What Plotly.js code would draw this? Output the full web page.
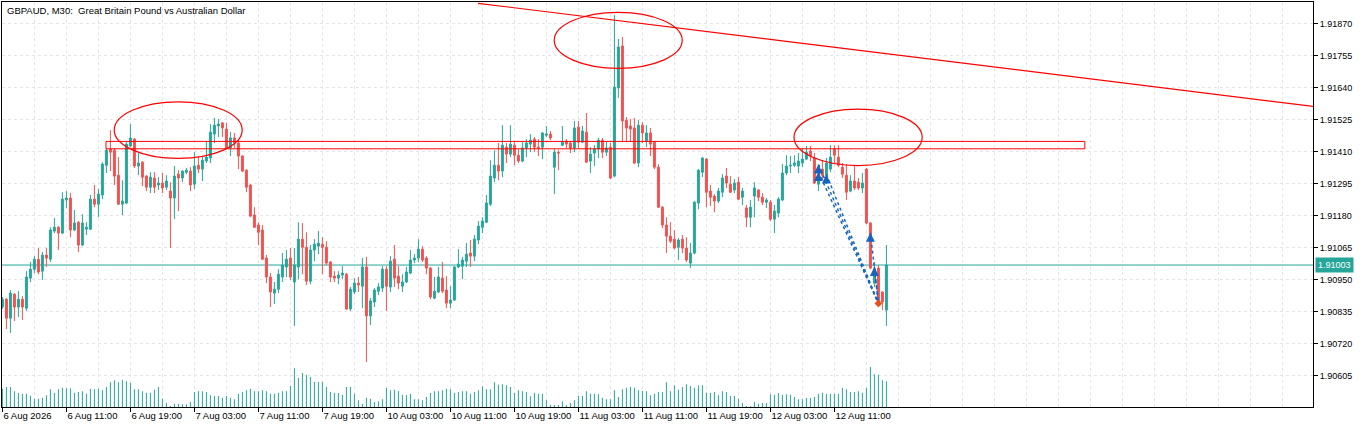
<!DOCTYPE html>
<html><head><meta charset="utf-8">
<script src="https://cdn.plot.ly/plotly-3.0.1.min.js"></script>
<style>html,body{margin:0;padding:0;background:#fff;}#chart{width:1366px;height:428px;}</style>
</head><body><div id="chart"></div>
<script>
const openP = [
1.90852,1.90880,1.90812,1.90898,1.90852,1.90880,1.90848,1.90956,1.90988,1.91024,
1.90981,1.91039,1.91024,1.91125,1.91139,1.91118,1.91237,1.91244,1.91129,1.91157,
1.91075,1.91132,1.91132,1.91240,1.91222,1.91255,1.91362,1.91420,1.91416,1.91326,
1.91222,1.91226,1.91431,1.91456,1.91359,1.91373,1.91323,1.91283,1.91316,1.91291,
1.91298,1.91283,1.91269,1.91244,1.91330,1.91316,1.91337,1.91341,1.91294,1.91362,
1.91348,1.91377,1.91388,1.91474,1.91503,1.91514,1.91492,1.91424,1.91460,1.91442,
1.91395,1.91344,1.91291,1.91183,1.91147,1.91129,1.91028,1.90960,1.90902,1.90916,
1.90960,1.90996,1.91028,1.90942,1.90996,1.91096,1.91067,1.90945,1.91057,1.91071,
1.91078,1.91067,1.91014,1.90963,1.90956,1.90967,1.90970,1.90845,1.90906,1.90938,
1.90927,1.90996,1.90820,1.90870,1.90909,1.90920,1.90988,1.90924,1.91024,1.90963,
1.90927,1.90942,1.90974,1.91021,1.91028,1.91060,1.91028,1.90992,1.90884,1.90906,
1.90956,1.90913,1.90866,1.90877,1.90996,1.90999,1.91017,1.91046,1.91035,1.91093,
1.91139,1.91157,1.91222,1.91316,1.91362,1.91341,1.91427,1.91402,1.91434,1.91398,
1.91377,1.91424,1.91438,1.91456,1.91427,1.91427,1.91470,1.91474,1.91355,1.91409,
1.91434,1.91449,1.91442,1.91424,1.91499,1.91445,1.91481,1.91377,1.91406,1.91420,
1.91452,1.91409,1.91427,1.91323,1.91640,1.91791,1.91524,1.91503,1.91496,1.91370,
1.91506,1.91449,1.91478,1.91445,1.91355,1.91211,1.91147,1.91107,1.91096,1.91067,
1.91096,1.91064,1.91010,1.91046,1.91226,1.91337,1.91384,1.91269,1.91251,1.91233,
1.91265,1.91323,1.91294,1.91273,1.91301,1.91247,1.91208,1.91175,1.91251,1.91273,
1.91247,1.91229,1.91229,1.91168,1.91190,1.91237,1.91334,1.91359,1.91362,1.91359,
1.91370,1.91384,1.91413,1.91388,1.91294,1.91348,1.91326,1.91348,1.91420,1.91391,
1.91355,1.91326,1.91269,1.91305,1.91301,1.91280,1.91348,1.91154,1.90938,1.90992,
1.90906,1.90841];
const highP = [
1.90888,1.90884,1.90913,1.90902,1.90909,1.90891,1.90981,1.91014,1.91035,1.91064,
1.91050,1.91064,1.91139,1.91172,1.91143,1.91265,1.91269,1.91262,1.91201,1.91161,
1.91186,1.91157,1.91255,1.91291,1.91276,1.91373,1.91424,1.91488,1.91424,1.91391,
1.91308,1.91445,1.91510,1.91460,1.91409,1.91377,1.91326,1.91337,1.91337,1.91319,
1.91334,1.91326,1.91301,1.91359,1.91344,1.91344,1.91352,1.91355,1.91409,1.91391,
1.91391,1.91449,1.91510,1.91532,1.91528,1.91517,1.91514,1.91481,1.91478,1.91452,
1.91398,1.91348,1.91294,1.91211,1.91157,1.91147,1.91039,1.90974,1.90942,1.90988,
1.91046,1.91057,1.91064,1.91064,1.91157,1.91154,1.91121,1.91075,1.91096,1.91125,
1.91103,1.91089,1.91017,1.90981,1.90981,1.90999,1.90974,1.90924,1.90956,1.90960,
1.91028,1.91032,1.90884,1.90920,1.90938,1.90999,1.90999,1.91035,1.91075,1.90999,
1.90970,1.90996,1.91057,1.91042,1.91096,1.91071,1.91035,1.90996,1.90960,1.90996,
1.91014,1.90963,1.90927,1.90999,1.91060,1.91032,1.91082,1.91093,1.91111,1.91161,
1.91175,1.91255,1.91380,1.91416,1.91442,1.91506,1.91442,1.91506,1.91445,1.91420,
1.91445,1.91456,1.91474,1.91463,1.91456,1.91481,1.91503,1.91485,1.91420,1.91416,
1.91503,1.91456,1.91449,1.91521,1.91521,1.91503,1.91550,1.91427,1.91434,1.91460,
1.91460,1.91449,1.91442,1.91902,1.91816,1.91823,1.91535,1.91528,1.91532,1.91524,
1.91517,1.91506,1.91496,1.91449,1.91366,1.91215,1.91175,1.91157,1.91129,1.91100,
1.91111,1.91103,1.91082,1.91233,1.91348,1.91391,1.91388,1.91291,1.91258,1.91280,
1.91330,1.91352,1.91323,1.91312,1.91319,1.91280,1.91219,1.91237,1.91301,1.91276,
1.91262,1.91244,1.91237,1.91219,1.91247,1.91366,1.91398,1.91395,1.91398,1.91406,
1.91424,1.91431,1.91431,1.91406,1.91352,1.91380,1.91388,1.91434,1.91434,1.91434,
1.91370,1.91366,1.91326,1.91362,1.91316,1.91334,1.91352,1.91157,1.91014,1.91003,
1.90909,1.91075];
const lowP = [
1.90845,1.90773,1.90759,1.90802,1.90816,1.90805,1.90838,1.90942,1.90974,1.90970,
1.90949,1.90996,1.91014,1.91118,1.91057,1.91114,1.91208,1.91103,1.91125,1.91050,
1.91071,1.91111,1.91129,1.91211,1.91175,1.91240,1.91334,1.91341,1.91291,1.91219,
1.91183,1.91222,1.91427,1.91352,1.91326,1.91287,1.91269,1.91262,1.91262,1.91273,
1.91262,1.91273,1.91064,1.91168,1.91197,1.91301,1.91330,1.91269,1.91276,1.91334,
1.91305,1.91370,1.91370,1.91442,1.91463,1.91463,1.91420,1.91395,1.91424,1.91348,
1.91337,1.91265,1.91175,1.91136,1.91075,1.91021,1.90938,1.90852,1.90863,1.90902,
1.90942,1.90960,1.90949,1.90784,1.90952,1.90970,1.90931,1.90934,1.91017,1.91042,
1.90970,1.91003,1.90942,1.90942,1.90934,1.90952,1.90841,1.90838,1.90898,1.90906,
1.90848,1.90654,1.90787,1.90852,1.90895,1.90906,1.90838,1.90906,1.90924,1.90916,
1.90906,1.90938,1.90970,1.91010,1.91014,1.91014,1.90970,1.90880,1.90880,1.90902,
1.90902,1.90848,1.90848,1.90874,1.90992,1.90952,1.90996,1.90996,1.91017,1.91078,
1.91118,1.91154,1.91215,1.91301,1.91308,1.91319,1.91370,1.91391,1.91362,1.91370,
1.91373,1.91391,1.91409,1.91409,1.91395,1.91384,1.91463,1.91452,1.91258,1.91344,
1.91431,1.91424,1.91406,1.91409,1.91424,1.91442,1.91370,1.91334,1.91359,1.91388,
1.91388,1.91395,1.91312,1.91319,1.91604,1.91445,1.91445,1.91445,1.91366,1.91355,
1.91442,1.91427,1.91395,1.91348,1.91208,1.91136,1.91046,1.91082,1.91060,1.91021,
1.91046,1.91014,1.90992,1.91042,1.91204,1.91319,1.91211,1.91215,1.91193,1.91226,
1.91247,1.91280,1.91262,1.91262,1.91237,1.91219,1.91139,1.91139,1.91175,1.91233,
1.91219,1.91208,1.91161,1.91118,1.91175,1.91233,1.91326,1.91334,1.91355,1.91334,
1.91355,1.91380,1.91377,1.91294,1.91269,1.91308,1.91308,1.91337,1.91370,1.91355,
1.91316,1.91237,1.91265,1.91273,1.91273,1.91262,1.91150,1.90988,1.90924,1.90859,
1.90841,1.90784];
const closeP = [
1.90880,1.90812,1.90902,1.90852,1.90880,1.90852,1.90960,1.90988,1.91024,1.90978,
1.91039,1.91028,1.91129,1.91139,1.91118,1.91240,1.91244,1.91129,1.91154,1.91075,
1.91154,1.91139,1.91240,1.91222,1.91258,1.91366,1.91416,1.91409,1.91323,1.91222,
1.91233,1.91438,1.91460,1.91359,1.91370,1.91319,1.91283,1.91319,1.91283,1.91298,
1.91280,1.91305,1.91244,1.91323,1.91316,1.91341,1.91344,1.91291,1.91359,1.91348,
1.91380,1.91391,1.91481,1.91506,1.91510,1.91496,1.91424,1.91460,1.91442,1.91395,
1.91341,1.91283,1.91179,1.91139,1.91121,1.91024,1.90960,1.90906,1.90916,1.90970,
1.91003,1.91024,1.90960,1.91003,1.91096,1.91067,1.90945,1.91057,1.91078,1.91082,
1.91067,1.91010,1.90960,1.90956,1.90967,1.90974,1.90845,1.90916,1.90938,1.90931,
1.90996,1.90820,1.90874,1.90913,1.90924,1.90988,1.90927,1.91017,1.90956,1.90938,
1.90942,1.90978,1.91021,1.91028,1.91060,1.91021,1.90992,1.90888,1.90909,1.90960,
1.90909,1.90866,1.90877,1.90996,1.91006,1.91021,1.91042,1.91035,1.91096,1.91143,
1.91161,1.91226,1.91323,1.91362,1.91341,1.91434,1.91402,1.91438,1.91398,1.91377,
1.91424,1.91442,1.91452,1.91427,1.91424,1.91478,1.91474,1.91460,1.91409,1.91406,
1.91445,1.91438,1.91424,1.91496,1.91445,1.91485,1.91373,1.91402,1.91420,1.91452,
1.91409,1.91424,1.91316,1.91643,1.91787,1.91521,1.91496,1.91492,1.91370,1.91506,
1.91478,1.91478,1.91438,1.91355,1.91211,1.91147,1.91107,1.91089,1.91064,1.91093,
1.91064,1.91021,1.91046,1.91229,1.91344,1.91388,1.91265,1.91247,1.91233,1.91269,
1.91316,1.91298,1.91265,1.91298,1.91240,1.91269,1.91175,1.91211,1.91280,1.91247,
1.91229,1.91237,1.91168,1.91197,1.91240,1.91334,1.91359,1.91362,1.91370,1.91377,
1.91384,1.91409,1.91395,1.91298,1.91323,1.91326,1.91370,1.91391,1.91398,1.91362,
1.91330,1.91265,1.91305,1.91280,1.91280,1.91298,1.91154,1.90992,1.90988,1.90866,
1.90870,1.91003];
const volume = [
550,600,600,470,420,400,400,340,250,250,
280,350,530,420,530,580,560,560,430,450,
470,400,550,530,550,500,600,740,800,740,
820,770,730,530,530,470,430,430,520,600,
250,130,30,100,100,80,80,150,450,470,
470,450,350,330,330,280,330,280,230,400,
450,500,550,470,470,500,470,400,400,430,
470,470,630,1160,870,1020,970,900,750,750,
750,600,450,420,420,370,600,600,400,200,
100,280,250,150,170,230,570,500,520,480,
370,350,400,230,230,200,300,420,470,470,
500,550,530,420,450,470,470,400,450,500,
620,530,530,740,670,680,650,600,420,500,
470,450,320,430,400,400,200,70,60,60,
170,50,120,200,330,330,470,400,400,380,
280,230,230,500,300,530,580,600,580,500,
480,470,350,400,450,450,740,470,650,520,
600,680,630,580,650,650,430,420,450,350,
470,450,330,330,250,120,30,20,150,100,
120,120,380,370,420,370,380,370,300,230,
230,270,270,300,400,430,400,400,400,400,
570,530,450,450,470,430,570,1200,980,970,
800,770];
const tickBars = [0,16,32,48,64,80,96,112,128,144,160,176,192,208];
const tickLabels = ["6 Aug 2026","6 Aug 11:00","6 Aug 19:00","7 Aug 03:00","7 Aug 11:00","7 Aug 19:00",
  "10 Aug 03:00","10 Aug 11:00","10 Aug 19:00","11 Aug 03:00","11 Aug 11:00","11 Aug 19:00",
  "12 Aug 03:00","12 Aug 11:00"];
const lastPrice = 1.91003;
const tradeOpenBar = [204,204,206,217,218];
const tradeOpenPrice = [1.91365,1.91338,1.91329,1.91119,1.90996];
const tradeCloseBar = [219,219,219,219,219];
const tradeClosePrice = [1.90865,1.90865,1.90865,1.90865,1.90865];
const titleText = "GBPAUD, M30:\u00a0 Great Britain Pound vs Australian Dollar";

const barIndex = openP.map((_, i) => i);
const UP = '#26A69A', DN = '#EF5350', GRID = '#E6E4E8', RED = '#FF0000', BLUE = '#1565C0';

const lx = [], ly = [];
for (let k = 0; k < tradeOpenBar.length; k++) {
  lx.push(tradeOpenBar[k], tradeCloseBar[k], null);
  ly.push(tradeOpenPrice[k], tradeClosePrice[k], null);
}

const traces = [
  {type:'bar', x:barIndex, y:volume, yaxis:'y2', width:0.25, marker:{color:UP, line:{width:0}}, hoverinfo:'skip'},
  {type:'candlestick', x:barIndex, open:openP, high:highP, low:lowP, close:closeP,
   increasing:{line:{color:UP, width:1}, fillcolor:UP},
   decreasing:{line:{color:DN, width:1}, fillcolor:DN},
   whiskerwidth:0, hoverinfo:'skip'},
  {type:'scatter', mode:'lines', x:lx, y:ly, line:{color:BLUE, width:1.5, dash:'dot'}, hoverinfo:'skip'},
  {type:'scatter', mode:'markers', x:tradeOpenBar, y:tradeOpenPrice,
   marker:{symbol:'arrow-up', size:9, color:BLUE}, hoverinfo:'skip'},
  {type:'scatter', mode:'markers', x:[tradeCloseBar[0]], y:[tradeClosePrice[0]],
   marker:{symbol:'diamond', size:6, color:'#E8501E'}, hoverinfo:'skip'}
];

const dash = '3px,3px';
const layout = {
  width:1366, height:428,
  margin:{l:2, r:53, t:2, b:21, pad:0},
  paper_bgcolor:'#ffffff', plot_bgcolor:'#ffffff',
  showlegend:false, hovermode:false, dragmode:false,
  font:{family:'Liberation Sans, Arial, sans-serif', size:9, color:'#000'},
  xaxis:{
    range:[-0.1, 327.65], tickmode:'array', tickvals:tickBars, ticktext:tickLabels,
    ticks:'outside', ticklen:4, tickcolor:'#000', ticklabelposition:'outside right',
    tickangle:0, tickfont:{size:9.5, color:'#000'},
    showgrid:true, gridcolor:GRID, griddash:dash, gridwidth:1,
    minor:{tick0:0, dtick:8, showgrid:true, gridcolor:GRID, griddash:dash, gridwidth:1, ticks:''},
    showline:true, linecolor:'#000', linewidth:1, mirror:true, zeroline:false,
    rangeslider:{visible:false}, fixedrange:true
  },
  yaxis:{
    range:[1.904924, 1.919491], side:'right', tickmode:'linear', tick0:1.90605, dtick:0.00115,
    tickformat:'.5f', ticks:'outside', ticklen:4, tickcolor:'#000',
    tickfont:{size:9, color:'#000'},
    showgrid:true, gridcolor:GRID, griddash:dash, gridwidth:1,
    showline:true, linecolor:'#000', linewidth:1, mirror:true, zeroline:false, fixedrange:true
  },
  yaxis2:{overlaying:'y', range:[0, 12150], visible:false, fixedrange:true},
  shapes:[
    {type:'line', xref:'paper', x0:0, x1:1, yref:'y', y0:lastPrice, y1:lastPrice, line:{color:UP, width:1}, layer:'below'},
    {type:'rect', xref:'x', yref:'y', x0:25.9, x1:270.6, y0:1.914211, y1:1.914477, line:{color:RED, width:1}, fillcolor:'rgba(0,0,0,0)'},
    {type:'line', xref:'x', yref:'y', x0:118.9, y0:1.919444, x1:327.7, y1:1.915736, line:{color:RED, width:1.2}},
    {type:'circle', xref:'x', yref:'y', x0:27.95, x1:59.95, y0:1.913866, y1:1.915902, line:{color:RED, width:1.2}, fillcolor:'rgba(0,0,0,0)'},
    {type:'circle', xref:'x', yref:'y', x0:137.95, x1:169.95, y0:1.917106, y1:1.919121, line:{color:RED, width:1.2}, fillcolor:'rgba(0,0,0,0)'},
    {type:'circle', xref:'x', yref:'y', x0:197.9, x1:229.95, y0:1.913607, y1:1.915639, line:{color:RED, width:1.2}, fillcolor:'rgba(0,0,0,0)'}
  ],
  annotations:[
    {xref:'paper', yref:'paper', x:0, y:1, xanchor:'left', yanchor:'top', xshift:3, yshift:-1,
     text:titleText, showarrow:false, font:{size:9.5, color:'#000'}},
    {xref:'paper', yref:'y', x:1, y:lastPrice, xanchor:'left', yanchor:'middle', xshift:2,
     text:lastPrice.toFixed(5), showarrow:false, bgcolor:UP, borderpad:2, font:{size:9, color:'#fff'}}
  ]
};

Plotly.newPlot('chart', traces, layout, {staticPlot:true, displayModeBar:false});
</script>
</body></html>
